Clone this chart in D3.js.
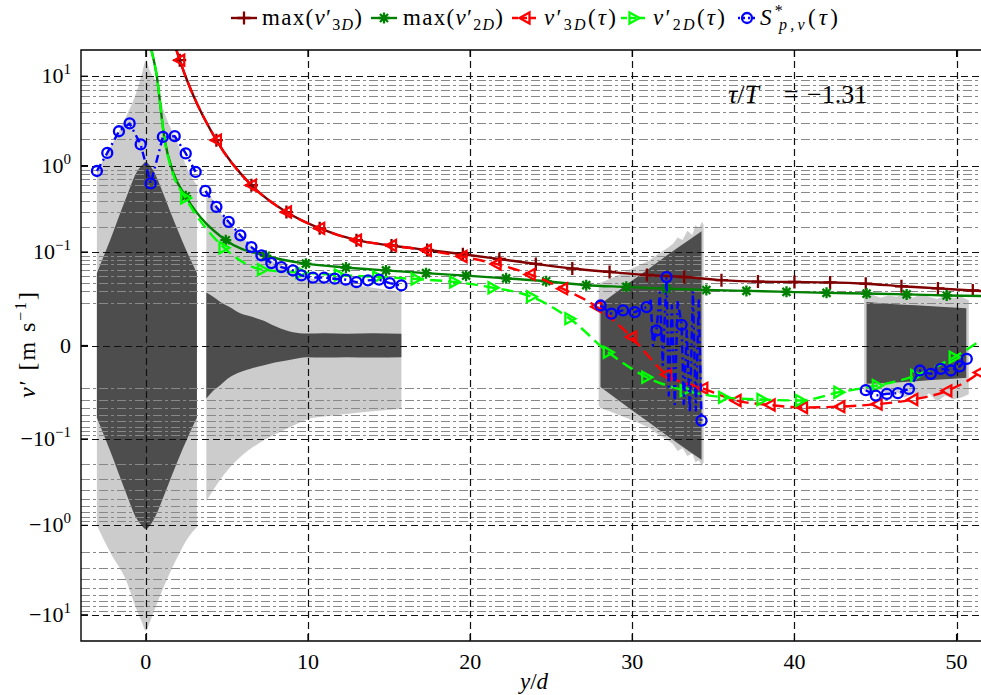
<!DOCTYPE html>
<html><head><meta charset="utf-8">
<script src="https://cdn.jsdelivr.net/npm/d3@7"></script>
<style>
body{margin:0;background:#fff}
svg{display:block}
text{font-family:"Liberation Serif","DejaVu Serif","Times New Roman",serif;fill:#000}
</style>
</head><body>
<svg id="c" width="981" height="695"></svg>
<script>
// ---------------- DATA ----------------
const xTicks = [0, 10, 20, 30, 40, 50];
const yMajorTicks = [-10, -1, -0.1, 0, 0.1, 1, 10];
const yTickBase = ["−10", "−10", "−10", "0", "10", "10", "10"];
const yTickExp  = ["1", "0", "−1", "", "−1", "0", "1"];
const minorMantissas = [2, 3, 4, 5, 6, 7, 8, 9];
const minorExponents = [-2, -1, 0, 1];
const yLimit = 19.6;

// shaded region 1
const r1X       = [-3.02, -2.2, -1.2, -0.6, -0.25, 0, 0.25, 0.65, 1.04, 1.88, 2.7, 3.15];
const r1LightHi = [0.85, 1.6, 3.6, 6.5, 10.5, 15, 11.5, 8.4, 4.5, 1.93, 0.82, 0.6];
const r1LightLo = [-1.0, -2.0, -4.2, -8.5, -12, -15, -12, -7.8, -5.2, -2.4, -1.3, -1.05];
const r1DarkHi  = [0.054, 0.14, 0.44, 0.82, 1.0, 1.1, 1.0, 0.75, 0.5, 0.2, 0.085, 0.054];
const r1DarkLo  = [-0.054, -0.14, -0.44, -0.82, -1.0, -1.1, -1.0, -0.75, -0.5, -0.2, -0.085, -0.054];
// shaded region 2
const r2X       = [3.73, 4.15, 4.55, 5.17, 5.79, 6.5, 7.23, 7.95, 8.67, 9.49, 9.9, 11, 12.37, 14, 15.76];
const r2LightHi = [0.55, 0.40, 0.30, 0.21, 0.16, 0.12, 0.092, 0.074, 0.063, 0.052, 0.048, 0.043, 0.039, 0.034, 0.030];
const r2LightLo = [-0.53, -0.40, -0.31, -0.22, -0.167, -0.13, -0.105, -0.088, -0.075, -0.062, -0.057, -0.052, -0.048, -0.044, -0.041];
const r2DarkHi  = [0.029, 0.025, 0.021, 0.0168, 0.013, 0.011, 0.009, 0.0065, 0.0047, 0.0037, 0.0036, 0.0037, 0.0035, 0.0037, 0.0035];
const r2DarkLo  = [-0.029, -0.022, -0.018, -0.0126, -0.0098, -0.008, -0.0067, -0.0055, -0.0047, -0.0038, -0.0035, -0.0036, -0.0035, -0.0036, -0.0035];
// shaded region 3
const r3LightX  = [27.93, 28.04, 28.6, 29.2, 29.8, 30.4, 31.0, 31.6, 32.1, 32.5, 32.8, 33.1, 33.4, 33.7, 33.9, 34.1, 34.3, 34.4];
const r3LightHi = [0.036, 0.040, 0.045, 0.052, 0.060, 0.068, 0.078, 0.095, 0.11, 0.125, 0.15, 0.14, 0.18, 0.16, 0.21, 0.19, 0.23, 0.21];
const r3LightLo = [-0.036, -0.040, -0.044, -0.05, -0.056, -0.063, -0.072, -0.088, -0.10, -0.115, -0.14, -0.13, -0.16, -0.15, -0.19, -0.18, -0.21, -0.19];
const r3DarkX   = [28.04, 29, 30, 31, 32, 33, 34.27];
const r3DarkHi  = [0.019, 0.029, 0.043, 0.061, 0.087, 0.12, 0.178];
const r3DarkLo  = [-0.019, -0.029, -0.043, -0.061, -0.087, -0.12, -0.178];
// shaded region 4
const r4LightX  = [44.3, 44.8, 45.3, 45.8, 46.3, 46.8, 47.3, 47.8, 48.3, 48.8, 49.3, 49.8, 50.3, 50.75];
const r4LightHi = [0.025, 0.027, 0.024, 0.026, 0.025, 0.028, 0.024, 0.027, 0.025, 0.023, 0.026, 0.024, 0.025, 0.022];
const r4LightLo = [-0.022, -0.024, -0.021, -0.026, -0.023, -0.028, -0.025, -0.030, -0.024, -0.032, -0.026, -0.030, -0.028, -0.025];
const r4DarkX   = [44.45, 46, 47.5, 49, 50.6];
const r4DarkHi  = [0.0205, 0.019, 0.018, 0.017, 0.016];
const r4DarkLo  = [-0.0166, -0.016, -0.015, -0.014, -0.0128];

// max(v'3D)
const max3DX = [1.85, 2.09, 4.35, 6.51, 8.67, 10.72, 12.99, 15.15, 17.35, 19.55, 21.8, 24.05, 26.3, 28.6, 30.9, 33.2, 35.5, 37.75, 40.0, 42.2, 44.4, 46.6, 48.85, 51.0, 53.2];
const max3DV = [20.5, 15.1, 1.93, 0.60, 0.297, 0.192, 0.139, 0.12, 0.106, 0.094, 0.082, 0.071, 0.062, 0.056, 0.051, 0.048, 0.0435, 0.0415, 0.041, 0.0405, 0.0388, 0.0357, 0.0333, 0.031, 0.029];
// max(v'2D)
const max2DX = [0.3, 0.65, 1.16, 1.67, 2.46, 4.93, 7.4, 9.87, 12.34, 14.81, 17.28, 19.75, 22.22, 24.69, 27.16, 29.63, 32.1, 34.57, 37.04, 39.51, 41.98, 44.45, 46.92, 49.39, 51.86];
const max2DV = [21, 10.7, 1.95, 0.85, 0.45, 0.139, 0.090, 0.0717, 0.064, 0.0587, 0.054, 0.050, 0.046, 0.042, 0.037, 0.035, 0.033, 0.0315, 0.0306, 0.0296, 0.0286, 0.0279, 0.0271, 0.0261, 0.0255];
const max2DMark = [0, 0, 0, 0, 1, 1, 1, 1, 1, 1, 1, 1, 1, 1, 1, 1, 1, 1, 1, 1, 1, 1, 1, 1, 1];
// v'3D(tau)
const v3DX = [1.85, 2.09, 4.35, 6.51, 8.67, 10.72, 12.99, 15.15, 17.3, 19.5, 21.6, 23.7, 25.7, 27.8, 29.95, 32.1, 34.35, 36.4, 38.5, 40.5, 42.8, 45.1, 47.3, 49.4, 51.4, 53];
const v3DV = [20.5, 15.1, 1.93, 0.60, 0.297, 0.192, 0.139, 0.12, 0.105, 0.088, 0.071, 0.052, 0.033, 0.017, 0.0024, -0.011, -0.020, -0.031, -0.036, -0.039, -0.038, -0.035, -0.030, -0.022, -0.010, 0.0];
// v'2D(tau)
const v2DX = [0.3, 0.65, 1.16, 1.67, 2.45, 4.82, 7.19, 9.56, 11.93, 14.3, 16.67, 19.04, 21.41, 23.78, 26.15, 28.52, 30.89, 33.26, 35.63, 38.0, 40.37, 42.74, 45.11, 47.48, 49.85, 52.22];
const v2DV = [21, 10.7, 1.93, 0.81, 0.43, 0.113, 0.060, 0.055, 0.051, 0.048, 0.045, 0.041, 0.034, 0.025, 0.0099, -0.0019, -0.0126, -0.0218, -0.0278, -0.030, -0.031, -0.0232, -0.0179, -0.0116, -0.0035, 0.004];
const v2DMark = [0, 0, 0, 0, 1, 1, 1, 1, 1, 1, 1, 1, 1, 1, 1, 1, 1, 1, 1, 1, 1, 1, 1, 1, 1, 1];
// S*_{p,v}(tau)
const s1X = [-3.02, -2.38, -1.66, -1.0, -0.32, 0.30, 1.05, 1.78, 2.46, 3.07];
const s1V = [0.87, 1.39, 2.43, 2.97, 1.73, 0.63, 2.10, 2.14, 1.37, 0.85];
const s2X = [3.67, 4.35, 5.11, 5.83, 6.51, 7.13, 7.74, 8.36, 9.07, 9.59, 10.31, 10.99, 11.65, 12.33, 12.99, 13.70, 14.38, 15.04, 15.76];
const s2V = [0.517, 0.340, 0.228, 0.159, 0.115, 0.091, 0.0728, 0.0648, 0.0587, 0.0504, 0.047, 0.047, 0.0455, 0.0441, 0.0408, 0.0431, 0.0441, 0.0396, 0.0367];
const s3X = [28.04, 28.72, 29.43, 30.15, 30.88, 31.14, 31.27, 31.49, 31.70, 31.88, 32.11, 32.25, 32.44, 32.62, 32.8, 33.04, 33.18, 33.36, 33.55, 33.74, 33.92, 34.1, 34.27];
const s3V = [0.0179, 0.0126, 0.0146, 0.0135, 0.0168, 0.0218, 0.0, 0.0047, 0.029, -0.0065, 0.0478, -0.026, 0.018, -0.035, 0.0218, 0.007, -0.035, 0.0047, -0.046, 0.030, -0.043, 0.0218, -0.0587];
const s3Mark = [1, 1, 1, 1, 1, 0, 0, 1, 0, 0, 1, 0, 0, 0, 0, 1, 0, 0, 0, 0, 0, 0, 1];
const s4X = [44.4, 45.02, 45.7, 46.38, 47.06, 47.74, 48.41, 49.03, 49.65, 50.2, 50.63];
const s4V = [-0.0215, -0.0261, -0.0246, -0.024, -0.0205, -0.009, -0.0107, -0.0082, -0.009, -0.0071, -0.0041];

// ---------------- DRAWING ----------------
const svg = d3.select("#c");
const L = 81, T = 50, R = 989, B = 641;
const x = d3.scaleLinear().domain([-4, 52]).range([L, R]);
const y = d3.scaleSymlog().constant(0.01).domain([-yLimit, yLimit]).range([B, T]);

svg.append("defs").append("clipPath").attr("id", "plot")
  .append("rect").attr("x", L).attr("y", T).attr("width", R - L).attr("height", B - T);
const g = svg.append("g").attr("clip-path", "url(#plot)");

const LIGHT = "#cccccc", DARK = "#4d4d4d";
function band(xs, hi, lo, color, curve) {
  const pts = xs.map((d, i) => ({x: d, hi: hi[i], lo: lo[i]}));
  g.append("path").datum(pts).attr("fill", color).attr("stroke", "none")
    .attr("d", d3.area().x(d => x(d.x)).y0(d => y(d.lo)).y1(d => y(d.hi)).curve(curve));
}
band(r1X, r1LightHi, r1LightLo, LIGHT, d3.curveMonotoneX);
band(r1X, r1DarkHi, r1DarkLo, DARK, d3.curveMonotoneX);
band(r2X, r2LightHi, r2LightLo, LIGHT, d3.curveMonotoneX);
band(r2X, r2DarkHi, r2DarkLo, DARK, d3.curveMonotoneX);
band(r3LightX, r3LightHi, r3LightLo, LIGHT, d3.curveLinear);
band(r3DarkX, r3DarkHi, r3DarkLo, DARK, d3.curveMonotoneX);
band(r4LightX, r4LightHi, r4LightLo, LIGHT, d3.curveLinear);
band(r4DarkX, r4DarkHi, r4DarkLo, DARK, d3.curveMonotoneX);

// minor grid
const minorVals = [];
minorExponents.forEach(e => minorMantissas.forEach(m => {
  const v = m * Math.pow(10, e);
  if (v < yLimit) { minorVals.push(v); minorVals.push(-v); }
}));
g.selectAll(".mg").data(minorVals).enter().append("line")
  .attr("x1", L).attr("x2", R).attr("y1", d => Math.round(y(d)) + 0.5).attr("y2", d => Math.round(y(d)) + 0.5)
  .attr("stroke", "#888").attr("stroke-width", 1.1).attr("stroke-dasharray", "9,3,3,3");
// major grid
g.selectAll(".yg").data(yMajorTicks).enter().append("line")
  .attr("x1", L).attr("x2", R).attr("y1", d => Math.round(y(d)) + 0.5).attr("y2", d => Math.round(y(d)) + 0.5)
  .attr("stroke", "#111").attr("stroke-width", 1.2).attr("stroke-dasharray", "7,4");
g.selectAll(".xg").data(xTicks).enter().append("line")
  .attr("y1", T).attr("y2", B).attr("x1", d => Math.round(x(d)) + 0.5).attr("x2", d => Math.round(x(d)) + 0.5)
  .attr("stroke", "#111").attr("stroke-width", 1.2).attr("stroke-dasharray", "7,4");

// markers
const markerPath = {
  plus: "M-6.5,0H6.5M0,-6.5V6.5",
  star: "M-5.5,0H5.5M0,-5.5V5.5M-4,-4L4,4M-4,4L4,-4",
  left: "M-5.5,0L4.5,-5.5L4.5,5.5Z",
  right: "M5.5,0L-4.5,-5.5L-4.5,5.5Z",
  circle: "M5,0A5,5 0 1,1 -5,0A5,5 0 1,1 5,0Z"
};
function series(xs, vs, color, dash, marker, marks, curve) {
  const pts = xs.map((d, i) => ({x: d, v: vs[i], m: marks ? marks[i] : 1}));
  g.append("path").datum(pts).attr("fill", "none").attr("stroke", color).attr("stroke-width", 2.4)
    .attr("stroke-dasharray", dash).attr("stroke-linejoin", "round")
    .attr("d", d3.line().x(d => x(d.x)).y(d => y(d.v)).curve(curve));
  g.selectAll(null).data(pts.filter(d => d.m && Math.abs(d.v) < yLimit)).enter().append("path")
    .attr("transform", d => `translate(${x(d.x)},${y(d.v)})`)
    .attr("d", markerPath[marker]).attr("fill", "none").attr("stroke", color).attr("stroke-width", 2.3);
}
const C3 = "#800000", C2 = "#008000", CR = "#ff0000", CG = "#00ff00", CB = "#0000ff";
const DASH = "12,6", DASHDOT = "8,4,2,4";
series(max3DX, max3DV, C3, null, "plus", null, d3.curveMonotoneX);
series(max2DX, max2DV, C2, null, "star", max2DMark, d3.curveMonotoneX);
series(v3DX, v3DV, CR, DASH, "left", null, d3.curveMonotoneX);
series(v2DX, v2DV, CG, DASH, "right", v2DMark, d3.curveMonotoneX);
series(s1X, s1V, CB, DASHDOT, "circle", null, d3.curveLinear);
series(s2X, s2V, CB, DASHDOT, "circle", null, d3.curveLinear);
series(s3X, s3V, CB, DASHDOT, "circle", s3Mark, d3.curveLinear);
series(s4X, s4V, CB, DASHDOT, "circle", null, d3.curveLinear);

// frame
svg.append("path").attr("d", `M${R},${T}H${L}V${B}H${R}`).attr("fill", "none").attr("stroke", "#000").attr("stroke-width", 1.4);
// ticks
svg.selectAll(".xt").data(xTicks).enter().append("path")
  .attr("d", d => `M${x(d)},${B}v-7M${x(d)},${T}v7`).attr("stroke", "#000").attr("stroke-width", 1.2);
svg.selectAll(".yt").data(yMajorTicks).enter().append("path")
  .attr("d", d => `M${L},${y(d)}h7`).attr("stroke", "#000").attr("stroke-width", 1.2);
// x tick labels
svg.selectAll(".xl").data(xTicks).enter().append("text")
  .attr("x", d => x(d)).attr("y", 669).attr("text-anchor", "middle").attr("font-size", 22).text(d => d);
// y tick labels
yMajorTicks.forEach((v, i) => {
  const t = svg.append("text").attr("x", 71).attr("y", y(v) + 7).attr("text-anchor", "end").attr("font-size", 22);
  t.append("tspan").text(yTickBase[i]);
  if (yTickExp[i]) t.append("tspan").attr("dy", -9).attr("font-size", 15).text(yTickExp[i]);
});
// axis labels
const xl = svg.append("text").attr("x", 534).attr("y", 689).attr("text-anchor", "middle").attr("font-size", 23);
xl.append("tspan").attr("font-style", "italic").text("y");
xl.append("tspan").text("/");
xl.append("tspan").attr("font-style", "italic").text("d");
const yl = svg.append("text").attr("transform", "translate(35,345) rotate(-90)").attr("text-anchor", "middle")
  .attr("font-size", 24).attr("textLength", 106).attr("lengthAdjust", "spacing");
yl.append("tspan").attr("font-style", "italic").text("v");
yl.append("tspan").text("′ [m s");
yl.append("tspan").attr("dy", -9).attr("font-size", 16).text("−1");
yl.append("tspan").attr("dy", 9).text("]");

// annotation
const an1 = svg.append("text").attr("x", 728).attr("y", 103).attr("font-size", 26);
an1.append("tspan").attr("font-style", "italic").text("τ");
an1.append("tspan").text("/");
an1.append("tspan").attr("font-style", "italic").text("T");
svg.append("text").attr("x", 791).attr("y", 103).attr("font-size", 26).attr("text-anchor", "middle").text("=");
svg.append("text").attr("x", 807).attr("y", 103).attr("font-size", 26).text("−1.31");

// legend
const legendItems = [
  {cx: 244, half: 13, tx: 262, w: 100, color: C3, dash: null, marker: "plus", kind: "max", sub: "3"},
  {cx: 384, half: 13, tx: 403, w: 100, color: C2, dash: null, marker: "star", kind: "max", sub: "2"},
  {cx: 525, half: 13, tx: 544, w: 72, color: CR, dash: "6,3", marker: "left", kind: "v", sub: "3"},
  {cx: 634, half: 13, tx: 653, w: 72, color: CG, dash: "6,3", marker: "right", kind: "v", sub: "2"},
  {cx: 747, half: 9, tx: 760, w: 78, color: CB, dash: "2,3", marker: "circle", kind: "S"}
];
const LY = 18;
legendItems.forEach(it => {
  svg.append("line").attr("x1", it.cx - it.half).attr("x2", it.cx + it.half).attr("y1", LY).attr("y2", LY)
    .attr("stroke", it.color).attr("stroke-width", 2.4).attr("stroke-dasharray", it.dash);
  svg.append("path").attr("transform", `translate(${it.cx},${LY})`).attr("d", markerPath[it.marker])
    .attr("fill", "none").attr("stroke", it.color).attr("stroke-width", 2.3);
  const t = svg.append("text").attr("x", it.tx).attr("y", 25).attr("font-size", 23)
    .attr("textLength", it.w).attr("lengthAdjust", "spacing");
  if (it.kind === "max") {
    t.append("tspan").text("max(");
    t.append("tspan").attr("font-style", "italic").text("v");
    t.append("tspan").text("′");
    t.append("tspan").attr("dy", 5).attr("font-size", 16).text(it.sub);
    t.append("tspan").attr("font-size", 16).attr("font-style", "italic").text("D");
    t.append("tspan").attr("dy", -5).text(")");
  } else if (it.kind === "v") {
    t.append("tspan").attr("font-style", "italic").text("v");
    t.append("tspan").text("′");
    t.append("tspan").attr("dy", 5).attr("font-size", 16).text(it.sub);
    t.append("tspan").attr("font-size", 16).attr("font-style", "italic").text("D");
    t.append("tspan").attr("dy", -5).text("(");
    t.append("tspan").attr("font-style", "italic").text("τ");
    t.append("tspan").text(")");
  } else {
    t.append("tspan").attr("font-style", "italic").text("S");
    t.append("tspan").attr("dy", -9).attr("font-size", 16).text("*");
    t.append("tspan").attr("dx", -7).attr("dy", 14).attr("font-size", 16).attr("font-style", "italic").text("p,v");
    t.append("tspan").attr("dy", -5).text("(");
    t.append("tspan").attr("font-style", "italic").text("τ");
    t.append("tspan").text(")");
  }
});
</script>
</body></html>
